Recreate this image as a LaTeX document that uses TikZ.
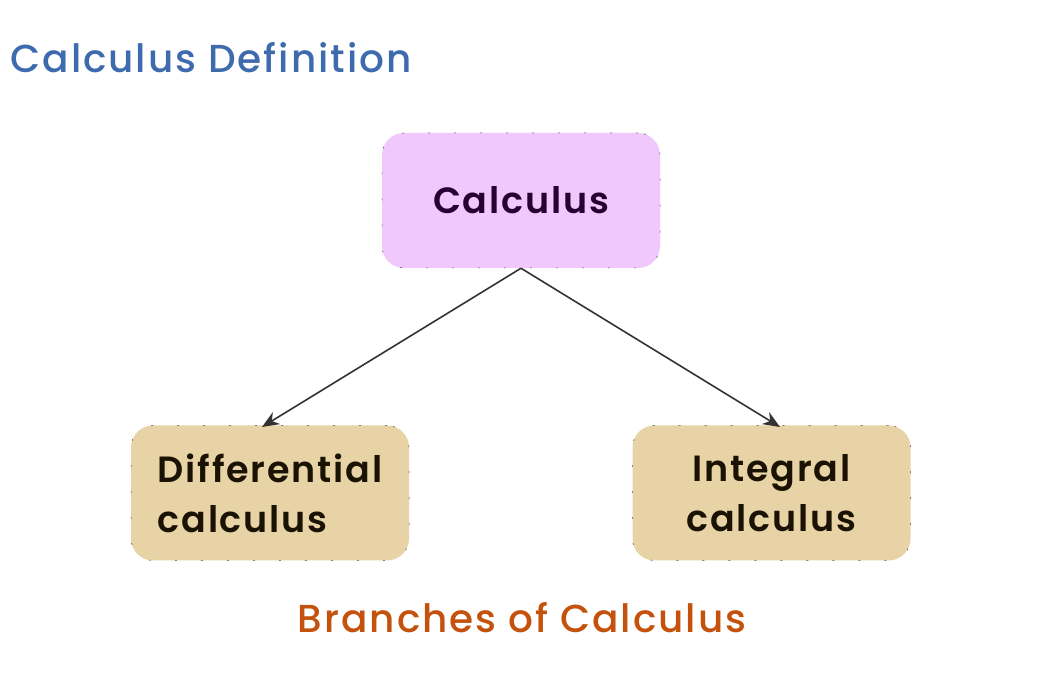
\documentclass[tikz,border=0pt]{standalone}
\usepackage{fontspec}
\setmainfont{Poppins}[UprightFont={* Medium}, LetterSpace=5]
\newfontfamily\boxfont{Poppins}[UprightFont={* SemiBold}, LetterSpace=5]
\usetikzlibrary{arrows.meta}
\definecolor{titleblue}{HTML}{3E6BAE}
\definecolor{branchorange}{HTML}{C4520C}
\definecolor{purplefill}{HTML}{F0C8FC}
\definecolor{tanfill}{HTML}{E7D3A6}
\definecolor{purpletext}{HTML}{2A0032}
\definecolor{tantext}{HTML}{1A1202}
\definecolor{arrowgray}{HTML}{333333}
\tikzset{
  x=1pt, y=1pt,
  box/.style={rounded corners=22pt, minimum width=278pt, minimum height=135pt,
    draw=black!70, line width=0.5pt, dash pattern=on 2pt off 24pt, align=center,
    font=\boxfont\fontsize{36.5}{50}\selectfont},
  topbox/.style={box, fill=purplefill, text=purpletext},
  leafbox/.style={box, fill=tanfill, text=tantext},
  conn/.style={draw=arrowgray, line width=1.6pt, -{Stealth[length=17pt, width=14pt]}},
  heading/.style={font=\fontsize{39}{46}\selectfont}
}
\begin{document}
\begin{tikzpicture}
\useasboundingbox (0,0) rectangle (1042,682);
\fill[white] (0,0) rectangle (1042,682);
\node[heading, anchor=base west, text=titleblue] (title) at (7,609) {Calculus Definition};
\node[topbox] (calc) at (521,481.5) {Calculus};
\node[leafbox, align=left] (diff) at (270,189) {Differential\\calculus};
\node[leafbox] (integ) at (771.5,189) {Integral\\calculus};
\node[heading, anchor=base, text=branchorange] (branches) at (522,49) {Branches of Calculus};
\draw[conn] (calc.south) -- (262,255);
\draw[conn] (calc.south) -- (780,255);
\end{tikzpicture}
\end{document}
